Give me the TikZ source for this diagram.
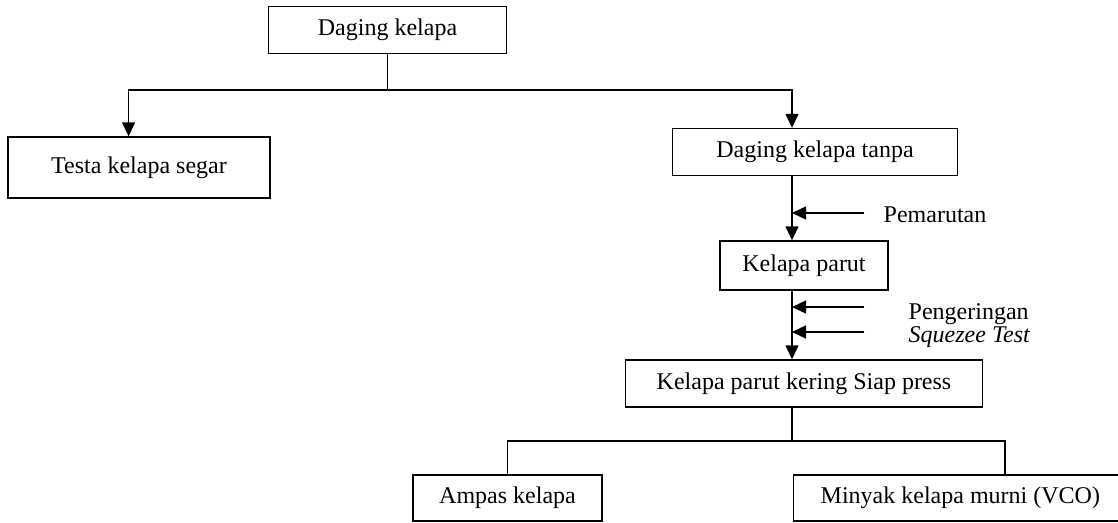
\documentclass[tikz,border=0pt]{standalone}
\usepackage{fontspec}
\setmainfont{Liberation Serif}
\usetikzlibrary{arrows.meta}

\begin{document}
\begin{tikzpicture}[x=1pt,y=-1pt,line width=1.4pt,
    >={Triangle[length=14pt,width=13pt]},
    box/.style={draw,inner sep=0pt,minimum height=47pt,font=\fontsize{24}{28}\selectfont},
    lbl/.style={anchor=base west,inner sep=0pt,font=\fontsize{24}{28}\selectfont}]
    \useasboundingbox (0,0) rectangle (1118,522);
    \node[box,minimum width=238pt] (daging) at (387.5,30) {Daging kelapa};
    \node[box,minimum width=262pt,minimum height=61pt] (testa) at (139,167.5) {Testa kelapa segar};
    \node[box,minimum width=285pt] (tanpa) at (815,152) {Daging kelapa tanpa};
    \node[box,minimum width=168pt,minimum height=49pt] (parut) at (804,265.5) {Kelapa parut};
    \node[box,minimum width=357pt] (kering) at (804,383.5) {Kelapa parut kering Siap press};
    \node[box,minimum width=189pt,minimum height=46pt] (ampas) at (507.5,498) {Ampas kelapa};
    \node[box,minimum height=46pt,anchor=west,text width=300pt,inner xsep=27pt,align=flush left] (minyak) at (793,498) {Minyak kelapa murni (VCO)};
    % labels beside the arrows
    \node[lbl] (marut) at (883,222) {Pemarutan};
    \node[lbl] (keringan) at (908,319) {Pengeringan};
    \node[lbl] (squeeze) at (908,342) {\itshape Squezee Test};
    \coordinate (sp) at (792,0);
    \coordinate (lft) at (128.6,0);
    \coordinate (rgt) at (1005,0);
    \coordinate (split) at (0,90);
    \coordinate (bsplit) at (0,441);
    \coordinate (inmarut) at (864,213);
    \coordinate (inkering) at (864,307);
    \coordinate (insqueeze) at (864,332);
    \draw (daging.south) -- (daging.south |- split);
    \draw[<->] (lft |- testa.north) |- (sp |- split) -- (sp |- tanpa.north);
    \draw[->] (sp |- tanpa.south) -- (sp |- parut.north);
    \draw[->] (sp |- parut.south) -- (sp |- kering.north);
    \draw[->] (inmarut) -- (inmarut -| sp);
    \draw[->] (inkering) -- (inkering -| sp);
    \draw[->] (insqueeze) -- (insqueeze -| sp);
    \draw (sp |- kering.south) -- (sp |- bsplit);
    \draw (ampas.north) |- (rgt |- bsplit) -- (rgt |- minyak.north);
\end{tikzpicture}
\end{document}
